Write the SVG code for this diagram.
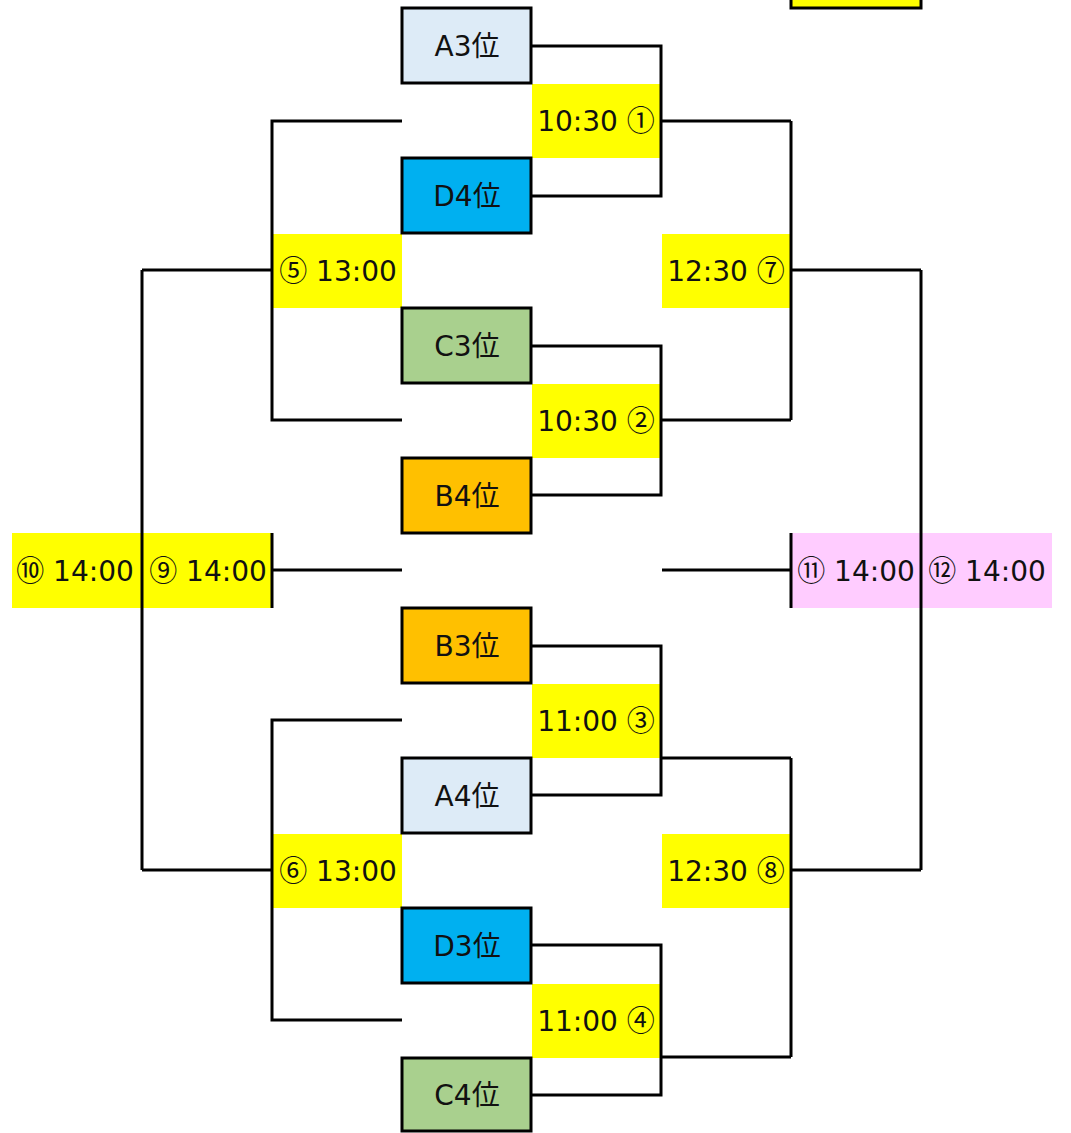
<svg xmlns="http://www.w3.org/2000/svg" width="1071" height="1133" viewBox="0 0 1071 1133">
<style>
.t{font-family:"DejaVu Sans","Noto Sans CJK JP",sans-serif;font-size:28px;fill:#111;text-anchor:middle}
.c{font-family:"Noto Sans CJK JP",sans-serif}
.box{stroke:#000;stroke-width:3}
.ln{stroke:#000;stroke-width:3;fill:none}
.y{fill:#FFFF00}
.p{fill:#FFCCFF}
</style>
<rect width="1071" height="1133" fill="#fff"/>
<g id="legend"><rect x="791" y="-10" width="130" height="18" class="y box"/></g>
<g id="labels">
<g id="m1"><rect x="532" y="84" width="128" height="74" class="y"/><text x="596" y="131" class="t">10:30 <tspan class="c">①</tspan></text></g>
<g id="m2"><rect x="532" y="384" width="128" height="74" class="y"/><text x="596" y="431" class="t">10:30 <tspan class="c">②</tspan></text></g>
<g id="m3"><rect x="532" y="684" width="128" height="74" class="y"/><text x="596" y="731" class="t">11:00 <tspan class="c">③</tspan></text></g>
<g id="m4"><rect x="532" y="984" width="128" height="74" class="y"/><text x="596" y="1031" class="t">11:00 <tspan class="c">④</tspan></text></g>
<g id="m5"><rect x="273" y="234" width="129" height="74" class="y"/><text x="338" y="281" class="t"><tspan class="c">⑤</tspan> 13:00</text></g>
<g id="m6"><rect x="273" y="834" width="129" height="74" class="y"/><text x="338" y="881" class="t"><tspan class="c">⑥</tspan> 13:00</text></g>
<g id="m7"><rect x="662" y="234" width="128" height="74" class="y"/><text x="726" y="281" class="t">12:30 <tspan class="c">⑦</tspan></text></g>
<g id="m8"><rect x="662" y="834" width="128" height="74" class="y"/><text x="726" y="881" class="t">12:30 <tspan class="c">⑧</tspan></text></g>
<g id="m9m10"><rect x="12" y="533" width="260" height="75" class="y"/><text x="75" y="581" class="t"><tspan class="c">⑩</tspan> 14:00</text><text x="208" y="581" class="t"><tspan class="c">⑨</tspan> 14:00</text></g>
<g id="m11m12"><rect x="791" y="533" width="261" height="75" class="p"/><text x="856" y="581" class="t"><tspan class="c">⑪</tspan> 14:00</text><text x="987" y="581" class="t"><tspan class="c">⑫</tspan> 14:00</text></g>
</g>
<g id="connectors">
<path class="ln" d="M531 46H661V196H531M661 121H791M531 346H661V495H531M661 420H791M791 121V420M791 270H921"/>
<path class="ln" d="M531 646H661V795H531M661 758H791M531 945H661V1095H531M661 1057H791M791 758V1057M791 870H921M921 270V870"/>
<path class="ln" d="M402 121H272V420H402M272 270H142M402 720H272V1020H402M272 870H142M142 270V870"/>
<path class="ln" d="M272 570H402M272 533V608M662 570H791M791 533V608"/>
</g>
<g id="nodes">
<g id="A3"><rect x="402" y="8" width="129" height="75" fill="#DDEBF7" class="box"/><text x="467" y="56" class="t">A3位</text></g>
<g id="D4"><rect x="402" y="158" width="129" height="75" fill="#00B0F0" class="box"/><text x="467" y="206" class="t">D4位</text></g>
<g id="C3"><rect x="402" y="308" width="129" height="75" fill="#A9D08E" class="box"/><text x="467" y="356" class="t">C3位</text></g>
<g id="B4"><rect x="402" y="458" width="129" height="75" fill="#FFC000" class="box"/><text x="467" y="506" class="t">B4位</text></g>
<g id="B3"><rect x="402" y="608" width="129" height="75" fill="#FFC000" class="box"/><text x="467" y="656" class="t">B3位</text></g>
<g id="A4"><rect x="402" y="758" width="129" height="75" fill="#DDEBF7" class="box"/><text x="467" y="806" class="t">A4位</text></g>
<g id="D3"><rect x="402" y="908" width="129" height="75" fill="#00B0F0" class="box"/><text x="467" y="956" class="t">D3位</text></g>
<g id="C4"><rect x="402" y="1058" width="129" height="73" fill="#A9D08E" class="box"/><text x="467" y="1105" class="t">C4位</text></g>
</g>
</svg>
